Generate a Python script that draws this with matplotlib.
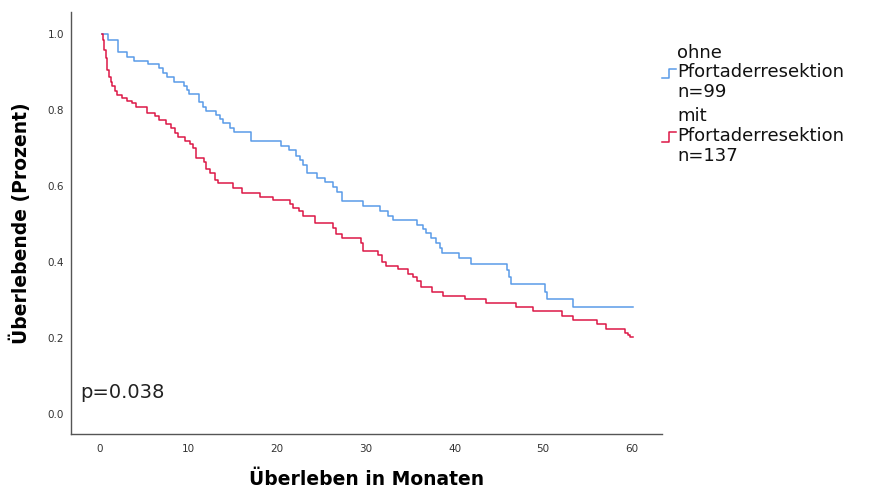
#
# Kaplan-Meier plot: mit / ohne Pfortaderresektion
#
import matplotlib
matplotlib.use('Agg')
from matplotlib import pyplot as plt
from matplotlib.legend_handler import HandlerLine2D
from matplotlib.lines import Line2D

# ohne Pfortaderresektion (n=99): step times (months) and survival
t_ohne = [0.2, 0.9, 2.0, 3.0, 3.8, 5.4, 6.7, 7.1, 7.6, 8.3, 9.5, 9.8, 10.0,
          11.2, 11.6, 12.0, 13.1, 13.5, 13.9, 14.7, 15.1, 17.0, 20.4, 21.3,
          22.1, 22.6, 22.9, 23.3, 24.5, 25.4, 26.3, 26.7, 27.3, 29.7, 31.6,
          32.5, 33.1, 35.8, 36.4, 36.8, 37.3, 37.9, 38.4, 38.6, 40.5, 41.8,
          45.9, 46.1, 46.4, 50.2, 50.4, 53.4, 60.1]
s_ohne = [1.0, 0.984, 0.952, 0.940, 0.930, 0.920, 0.910, 0.898, 0.886, 0.875,
          0.864, 0.853, 0.842, 0.820, 0.809, 0.798, 0.787, 0.776, 0.766, 0.754,
          0.742, 0.718, 0.705, 0.695, 0.680, 0.668, 0.655, 0.633, 0.622, 0.610,
          0.598, 0.585, 0.560, 0.548, 0.535, 0.522, 0.510, 0.497, 0.486, 0.476,
          0.462, 0.451, 0.438, 0.425, 0.411, 0.395, 0.379, 0.361, 0.341, 0.322,
          0.302, 0.281, 0.281]

# mit Pfortaderresektion (n=137)
t_mit = [0.2, 0.37, 0.5, 0.64, 0.83, 1.05, 1.24, 1.4, 1.7, 1.9, 2.5, 3.0,
         3.6, 4.1, 5.3, 6.2, 6.7, 7.5, 8.0, 8.5, 8.8, 9.6, 10.1, 10.5, 10.8,
         11.7, 12.0, 12.4, 13.0, 13.3, 15.0, 16.0, 18.0, 19.5, 21.4, 21.8,
         22.4, 22.9, 24.2, 26.3, 26.6, 27.3, 29.5, 29.7, 31.4, 31.8, 32.3,
         33.6, 34.8, 35.3, 35.8, 36.2, 37.4, 38.7, 41.2, 43.6, 46.9, 48.8,
         52.1, 53.4, 56.1, 57.1, 59.2, 59.6, 59.8, 60.1]
s_mit = [1.0, 0.984, 0.958, 0.936, 0.905, 0.888, 0.875, 0.862, 0.849, 0.840,
         0.831, 0.825, 0.818, 0.807, 0.793, 0.783, 0.774, 0.762, 0.752, 0.739,
         0.728, 0.719, 0.711, 0.699, 0.675, 0.664, 0.646, 0.633, 0.617, 0.607,
         0.596, 0.581, 0.572, 0.563, 0.552, 0.543, 0.534, 0.521, 0.502, 0.489,
         0.473, 0.464, 0.449, 0.429, 0.418, 0.401, 0.390, 0.382, 0.368, 0.360,
         0.350, 0.335, 0.322, 0.311, 0.302, 0.291, 0.281, 0.270, 0.259, 0.248,
         0.236, 0.224, 0.214, 0.208, 0.202, 0.202]

labels = ['ohne\nPfortaderresektion\nn=99', 'mit\nPfortaderresektion\nn=137']
x_ticks = [0, 10, 20, 30, 40, 50, 60]
y_ticks = [0.0, 0.2, 0.4, 0.6, 0.8, 1.0]
p_text = 'p=0.038'

col_ohne = '#5A9BE8'
col_mit = '#DC1846'


class StepHandler(HandlerLine2D):
    # legend icon as a little step
    def create_artists(self, legend, orig, xd, yd, w, h, fontsize, trans):
        xs = [0, 0.5 * w, 0.5 * w, w]
        ys = [0.1 * h, 0.1 * h, 0.85 * h, 0.85 * h]
        ln = Line2D([x - xd for x in xs], [y - yd for y in ys],
                    color=orig.get_color(), linewidth=orig.get_linewidth())
        ln.set_transform(trans)
        return [ln]


fig = plt.figure(figsize=(8.7, 4.9), dpi=100)
ax = fig.add_axes([71 / 870, 56 / 490, 591 / 870, 422 / 490])

l1, = ax.step(t_ohne, s_ohne, where='post', color=col_ohne, linewidth=1.1)
l2, = ax.step(t_mit, s_mit, where='post', color=col_mit, linewidth=1.1)

ax.set_xlim(-3.27, 63.4)
ax.set_ylim(-0.0526, 1.058)
ax.set_xticks(x_ticks)
ax.set_yticks(y_ticks)
ax.set_yticklabels(['%.1f' % v for v in y_ticks])
ax.tick_params(length=0, labelsize=7.5, colors='#333333')
ax.tick_params(axis='x', pad=7)
ax.tick_params(axis='y', pad=5)
for side in ['top', 'right']:
    ax.spines[side].set_visible(False)
for side in ['left', 'bottom']:
    ax.spines[side].set_color('#555555')
    ax.spines[side].set_linewidth(1.0)

ax.set_xlabel('Überleben in Monaten', fontsize=13.5, fontweight='bold')
ax.xaxis.set_label_coords(0.5, -36 / 422)
ax.set_ylabel('Überlebende (Prozent)', fontsize=13.5, fontweight='bold')
ax.yaxis.set_label_coords(-40 / 591, 0.5)

ax.text(0.015, 0.077, p_text, transform=ax.transAxes, fontsize=14,
        color='#222222', va='bottom', ha='left')

leg = ax.legend([l1, l2], labels, loc='upper left',
                bbox_to_anchor=(1.0, 0.925), frameon=False, fontsize=13,
                borderpad=0, borderaxespad=0,
                handlelength=0.8, handletextpad=0.05, labelspacing=0.35,
                handler_map={Line2D: StepHandler()})
for txt in leg.get_texts():
    txt.set_linespacing(1.12)
    txt.set_color('#111111')

fig.savefig('out.png')
